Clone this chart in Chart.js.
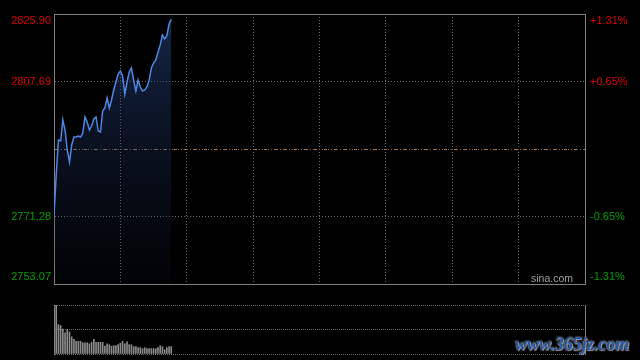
<!DOCTYPE html>
<html>
<head>
<meta charset="utf-8">
<script src="https://cdn.jsdelivr.net/npm/chart.js@4"></script>
<style>
    html, body { margin: 0; padding: 0; background: #000; width: 640px; height: 360px; overflow: hidden; }
    #main { position: absolute; left: 0; top: 0; }
    #vol { position: absolute; left: 0; top: 290px; }
    #mark { position: absolute; left: 515px; top: 334px; font: italic bold 18px "Liberation Serif", serif; color: #2456a4; text-shadow: 0 0 2px #d0d0d0, 1px 1px 1px #888; white-space: nowrap; }
</style>
</head>
<body>
<canvas id="main" width="640" height="300"></canvas>
<canvas id="vol" width="640" height="70"></canvas>
<div id="mark">www.365jz.com</div>
<script>
    // intraday index, one point per minute from the open
    var prices = [
        2771.68, 2782.47, 2791.91, 2791.64, 2797.31, 2794.61, 2789.22, 2785.98, 2790.56, 2792.72,
        2792.72, 2792.99, 2792.72, 2793.80, 2798.12, 2796.77, 2794.61, 2795.69, 2797.58, 2798.12,
        2794.34, 2794.07, 2799.74, 2800.54, 2803.24, 2800.54, 2802.70, 2805.40, 2807.56, 2809.72,
        2810.52, 2809.18, 2804.32, 2807.56, 2810.26, 2811.33, 2808.10, 2805.13, 2808.10, 2806.21,
        2805.13, 2805.40, 2806.21, 2808.10, 2811.33, 2812.68, 2813.49, 2815.65, 2817.54, 2820.24,
        2819.16, 2819.97, 2823.20, 2824.55
    ];
    // volume (relative), starts at minute 1
    var volumes = [
        100, 60, 58, 51, 43, 50, 45, 35, 30, 26,
        26, 26, 23, 23, 23, 21, 24, 30, 24, 24,
        24, 24, 16, 21, 19, 16, 17, 17, 19, 22,
        26, 21, 25, 19, 19, 15, 15, 13, 13, 11,
        13, 11, 11, 11, 11, 11, 13, 17, 15, 9,
        13, 15, 15
    ];
    var preClose = 2789.485;
    var priceTicks = [2753.07, 2771.28, 2789.485, 2807.69, 2825.90];
    var priceLabels = [2825.90, 2807.69, 2771.28, 2753.07];
    var pctLabels = ['+1.31%', '+0.65%', '-0.65%', '-1.31%'];
    var timeTicks = [0, 30, 60, 90, 120, 150, 180, 210, 240];
    var volTicks = [0, 50, 100];

    var setTicks = function (list) {
        return function (s) { s.ticks = list.map(function (v) { return { value: v }; }); };
    };
    var setWidth = function (w) { return function (s) { s.width = w; }; };
    var zeroHeight = function (s) { s.height = 0; };
    var frameColor = '#808080';
    var gridColor = '#6a6a6a';

    var axisLabels = {
        id: 'axisLabels',
        afterDraw: function (chart) {
            var ctx = chart.ctx, y = chart.scales.y, a = chart.chartArea;
            ctx.save();
            ctx.font = '11px "Liberation Sans", Arial, sans-serif';
            ctx.textBaseline = 'middle';
            priceLabels.forEach(function (v, i) {
                var py = Math.min(Math.max(y.getPixelForValue(v), a.top + 7), a.bottom - 7);
                ctx.fillStyle = v > preClose ? '#dd0000' : '#00a000';
                ctx.textAlign = 'right';
                ctx.fillText(v.toFixed(2), 51, py);
                ctx.textAlign = 'left';
                ctx.fillText(pctLabels[i], 590, py);
            });
            ctx.font = '10.5px "Liberation Sans", Arial, sans-serif';
            ctx.fillStyle = '#a0a0a0';
            ctx.textAlign = 'right';
            ctx.fillText('sina.com', 573, a.bottom - 5);
            ctx.restore();
        }
    };

    new Chart(document.getElementById('main'), {
        type: 'line',
        data: {
            datasets: [{
                data: prices.map(function (p, i) { return { x: i, y: p }; }),
                borderColor: '#4f86e6',
                borderWidth: 1.5,
                pointRadius: 0,
                tension: 0,
                fill: 'start',
                backgroundColor: function (c) {
                    var a = c.chart.chartArea;
                    if (!a) return 'rgba(0,0,0,0)';
                    var g = c.chart.ctx.createLinearGradient(0, a.top, 0, a.bottom);
                    g.addColorStop(0, 'rgba(40,70,130,0.55)');
                    g.addColorStop(1, 'rgba(20,35,70,0.08)');
                    return g;
                }
            }]
        },
        options: {
            responsive: false,
            animation: false,
            events: [],
            layout: { padding: { top: 14, bottom: 16, left: 0, right: 0 } },
            plugins: { legend: { display: false }, tooltip: { enabled: false } },
            scales: {
                x: {
                    type: 'linear', min: 0, max: 240, offset: false,
                    afterBuildTicks: setTicks(timeTicks), afterFit: zeroHeight,
                    ticks: { display: false },
                    grid: {
                        drawTicks: false, offset: false,
                        color: function (c) { return (c.tick && (c.tick.value === 0 || c.tick.value === 240)) ? 'rgba(0,0,0,0)' : gridColor; }
                    },
                    border: { display: true, color: frameColor, dash: [1, 2] }
                },
                xTop: {
                    type: 'linear', position: 'top', min: 0, max: 240, offset: false,
                    afterFit: zeroHeight,
                    ticks: { display: false },
                    grid: { display: false },
                    border: { display: true, color: frameColor }
                },
                y: {
                    min: 2753.07, max: 2825.90,
                    afterBuildTicks: setTicks(priceTicks), afterFit: setWidth(54),
                    ticks: { display: false },
                    grid: {
                        drawTicks: false,
                        color: function (c) { return (c.tick && (c.index === 0 || c.index === priceTicks.length - 1)) ? 'rgba(0,0,0,0)' : gridColor; }
                    },
                    border: { display: true, color: frameColor, dash: [1, 2] }
                },
                y2: {
                    position: 'right', min: 2753.07, max: 2825.90,
                    afterBuildTicks: setTicks([preClose]), afterFit: setWidth(55),
                    ticks: { display: false },
                    grid: { drawTicks: false, color: '#c0702e' },
                    border: { display: true, color: frameColor, dash: [3, 7] }
                }
            }
        },
        plugins: [axisLabels]
    });

    new Chart(document.getElementById('vol'), {
        type: 'bar',
        data: {
            datasets: [{
                data: volumes.map(function (v, i) { return { x: i + 1, y: v }; }),
                backgroundColor: '#8a8a8a',
                borderWidth: 0,
                barThickness: 1
            }]
        },
        options: {
            responsive: false,
            animation: false,
            events: [],
            layout: { padding: { top: 15, bottom: 6, left: 0, right: 0 } },
            plugins: { legend: { display: false }, tooltip: { enabled: false } },
            scales: {
                x: {
                    type: 'linear', min: 0, max: 240, offset: false,
                    afterFit: zeroHeight,
                    ticks: { display: false },
                    grid: { display: false, offset: false },
                    border: { display: false }
                },
                y: {
                    min: 0, max: 100,
                    afterBuildTicks: setTicks(volTicks), afterFit: setWidth(54),
                    ticks: { display: false },
                    grid: { drawTicks: false, color: gridColor },
                    border: { display: true, color: frameColor, dash: [1, 1] }
                },
                y2: {
                    position: 'right', min: 0, max: 100,
                    afterFit: setWidth(55),
                    ticks: { display: false },
                    grid: { display: false },
                    border: { display: true, color: frameColor }
                }
            }
        }
    });
</script>
</body>
</html>
